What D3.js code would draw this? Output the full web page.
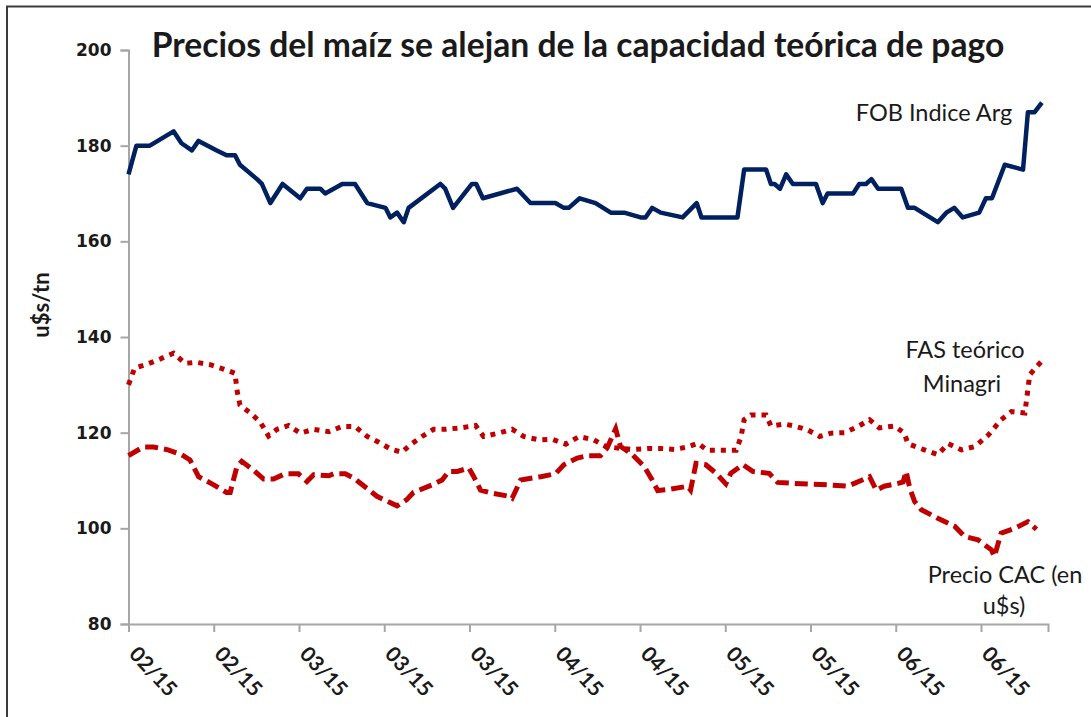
<!DOCTYPE html>
<html>
<head>
<meta charset="utf-8">
<title>Precios del maíz</title>
<script src="https://cdn.jsdelivr.net/npm/d3@7"></script>
<style>
  body { margin: 0; background: #fff; }
  svg text { fill: #1a1a1a; }
</style>
</head>
<body>
<div id="chart"></div>
<script>
// days counted from the first observation (early Feb 2015)
var fobDays = [0, 1.3, 3.5, 7.4, 8.7, 10.4, 11.5, 14.5, 16.1, 17.5, 18.3, 21.1, 21.9, 23.3, 25.3, 28.2, 29.3, 31.5, 32.3, 35.1,
  37.2, 39.2, 42.2, 43, 44.1, 45.2, 46, 51.2, 52, 53.3, 56.4, 57.1, 58.2, 63.8, 66, 70.1, 71.5, 72.3, 74.1, 76.7,
  79.2, 81.4, 84.1, 84.9, 86, 87.4, 91, 93.3, 94.1, 100, 101.1, 104.7, 105.5, 106.1, 107, 108, 109.1, 112.9, 114, 114.8,
  119, 120, 121.1, 122, 123.1, 126.9, 128, 129.1, 132.9, 134.3, 135.6, 137, 139.7, 140.8, 141.8, 143.9, 146.9, 147.7, 148.8, 150];
var fobValues = [174, 180, 180, 183, 180.5, 179, 181, 179, 178, 178, 176, 173, 172, 168, 172, 169, 171, 171, 170, 172,
  172, 168, 167, 165, 166, 164, 167, 172, 171, 167, 172, 172, 169, 171, 168, 168, 167, 167, 169, 168,
  166, 166, 165, 165, 167, 166, 165, 168, 165, 165, 175, 175, 172, 172, 171, 174, 172, 172, 168, 170,
  170, 172, 172, 173, 171, 171, 167, 167, 164, 166, 167, 165, 166, 169, 169, 176, 175, 187, 187, 189];

var fasDays = [0, 1, 3, 5.2, 7.4, 9.3, 11.2, 13.4, 15.6, 17.5, 17.8, 18.3, 20, 21.6, 23, 24.4, 26.3, 28.2, 30.4, 32.9,
  35.1, 37.2, 39.2, 41.1, 43, 44.9, 46.3, 48.2, 50.1, 52, 54.5, 57, 58.3, 60.8, 63, 64.9, 67.4, 69.6, 71.8, 74,
  76.4, 78.4, 80.8, 83, 85.5, 87.4, 89.6, 91.8, 93.5, 95.1, 97.3, 99.8, 100.6, 101.1, 102.2, 104.7, 105.5, 107.7, 109.3, 111.5,
  113.5, 115.4, 117.6, 119.8, 121.7, 123.3, 125.8, 127.4, 128, 130.7, 132.9, 134.6, 136.8, 139, 141.2, 143.3, 145, 147.2, 148, 148.8, 150];
var fasValues = [130, 133.5, 134.3, 135.4, 136.6, 134.5, 134.7, 134.2, 133.3, 132.4, 129, 125.8, 124.1, 122.3, 119.3, 120.7, 121.5, 119.9, 120.7, 120.2,
  121.3, 121.3, 119.2, 118, 116.6, 115.9, 117.5, 119.2, 120.7, 120.7, 121, 121.5, 119.2, 119.9, 120.7, 119.2, 118.5, 118.6, 117.6, 119.2,
  118.5, 117.1, 116.7, 116.5, 116.7, 116.7, 116.5, 117, 117.8, 116.3, 116.3, 116.3, 119.2, 122.7, 123.7, 123.7, 121.4, 121.8, 121.4, 120.6,
  119.2, 119.9, 120, 121.3, 122.7, 121, 121.4, 119.9, 117.7, 116.4, 115.4, 117.7, 116.4, 117.1, 119.5, 122.7, 124.4, 124.1, 132.1, 133.3, 135];

var cacDays = [0, 2.4, 4.1, 6.5, 8.7, 10.1, 11.5, 13.7, 16.1, 16.7, 17.8, 18.6, 20.5, 22.2, 23.8, 25.7, 27.9, 29.3, 30.4, 32.9,
  33.7, 35.6, 37, 40.8, 44.1, 45.7, 46.8, 49.9, 51.5, 52.6, 54, 55.9, 56.7, 57.8, 59.5, 62.5, 63, 64.4, 67.7, 70.1,
  71.5, 73.7, 75.4, 77.5, 78.6, 80, 80.8, 82.5, 84.7, 86, 86.9, 89.1, 91.8, 92.3, 93.2, 94.8, 96.5, 98.1, 98.9, 100.9,
  102.5, 105.2, 106.6, 109.3, 114.8, 118.1, 120.3, 121.7, 122.8, 124.1, 126.4, 127.2, 127.7, 128.3, 129.1, 130.2, 132.9, 135.7, 137.3, 139.5,
  141.7, 142.2, 143.3, 145.5, 147.7, 149.1];
var cacValues = [115.2, 117, 117, 116.4, 115.4, 114.3, 110.8, 109.3, 107.5, 107.5, 112.9, 114, 112.2, 110.3, 110.3, 111.4, 111.4, 109.8, 111.2, 111,
  111.4, 111.4, 110.5, 106.7, 104.7, 106, 107.5, 109.1, 110.1, 111.9, 111.9, 112.6, 110.8, 108, 107.4, 106.7, 106.3, 110.1, 110.8, 111.4,
  113.3, 114.7, 115.2, 115.2, 116.8, 120.8, 117.1, 115.7, 112.9, 110.1, 107.9, 108.2, 108.8, 108, 113.6, 113.3, 111.5, 109.3, 111.5, 113.3,
  111.9, 111.5, 109.6, 109.4, 109.1, 108.8, 110, 110.8, 108, 108.8, 109.4, 109.7, 111.9, 108.4, 105.6, 103.9, 102.1, 100.4, 98.3, 97.6,
  95.5, 94.1, 99, 100, 101.4, 99.8];

var tickDays = [0, 14, 28, 42, 56, 70, 84, 98, 112, 126, 140];
var tickLabels = ["02/15", "02/15", "03/15", "03/15", "03/15", "04/15", "04/15", "05/15", "05/15", "06/15", "06/15"];
var yTicks = [80, 100, 120, 140, 160, 180, 200];

var W = 1091, H = 717;
var svg = d3.select("#chart").append("svg")
    .attr("width", W)
    .attr("height", H);

// frame
svg.append("rect")
    .attr("x", 7).attr("y", 6.5)
    .attr("width", W + 20).attr("height", H + 20)
    .attr("fill", "#fff")
    .attr("stroke", "#3a3a3a")
    .attr("stroke-width", 2);

var x = d3.scaleLinear().domain([0, 151]).range([128.5, 1048]);
var y = d3.scaleLinear().domain([80, 200]).range([624, 50]);

// y axis
var yAxis = svg.append("g")
    .attr("transform", "translate(128.5,0)")
    .call(d3.axisLeft(y).tickValues(yTicks).tickSize(8).tickPadding(9));
yAxis.select(".domain").attr("stroke", "#a6a6a6").attr("stroke-width", 2);
yAxis.selectAll(".tick line").attr("stroke", "#a6a6a6").attr("stroke-width", 2);
yAxis.selectAll(".tick text")
    .attr("font-family", "DejaVu Sans")
    .attr("font-weight", "bold")
    .attr("font-size", 17)
    .attr("fill", "#222");

// x axis
var xAxis = svg.append("g")
    .attr("transform", "translate(0,624)")
    .call(d3.axisBottom(x).tickValues(tickDays).tickSize(8).tickFormat(function(d, i) { return tickLabels[i]; }));
xAxis.select(".domain").attr("stroke", "#a6a6a6").attr("stroke-width", 2);
xAxis.selectAll(".tick line").attr("stroke", "#a6a6a6").attr("stroke-width", 2);
xAxis.selectAll(".tick text")
    .attr("font-family", "Lato")
    .attr("font-weight", "bold")
    .attr("font-size", 21)
    .attr("fill", "#222")
    .attr("text-anchor", "start")
    .attr("dy", null)
    .attr("y", 0)
    .attr("transform", "translate(-1,31) rotate(47)");

function series(days, vals) {
  return days.map(function(d, i) { return [d, vals[i]]; });
}

var line = d3.line()
    .x(function(d) { return x(d[0]); })
    .y(function(d) { return y(d[1]); });

svg.append("path")
    .datum(series(cacDays, cacValues))
    .attr("d", line)
    .attr("fill", "none")
    .attr("stroke", "#c00000")
    .attr("stroke-width", 5)
    .attr("stroke-dasharray", "13,6");

svg.append("path")
    .datum(series(fasDays, fasValues))
    .attr("d", line)
    .attr("fill", "none")
    .attr("stroke", "#c00000")
    .attr("stroke-width", 5)
    .attr("stroke-dasharray", "5,6");

svg.append("path")
    .datum(series(fobDays, fobValues))
    .attr("d", line)
    .attr("fill", "none")
    .attr("stroke", "#002060")
    .attr("stroke-width", 4.5)
    .attr("stroke-linejoin", "round");

// title, scaled to the width it has in the original
var title = svg.append("text")
    .attr("x", 578).attr("y", 57)
    .attr("text-anchor", "middle")
    .attr("font-family", "Lato")
    .attr("font-weight", "bold")
    .attr("font-size", 28)
    .text("Precios del maíz se alejan de la capacidad teórica de pago");
var tw = title.node().getComputedTextLength();
title.attr("font-size", 28 * 853 / tw);

svg.append("text")
    .attr("transform", "translate(49,305) rotate(-90)")
    .attr("text-anchor", "middle")
    .attr("font-family", "Lato")
    .attr("font-weight", "bold")
    .attr("font-size", 22)
    .text("u$s/tn");

// series labels
var labels = [
  { t: "FOB Indice Arg", x: 934, y: 121 },
  { t: "FAS teórico", x: 965, y: 358 },
  { t: "Minagri", x: 962, y: 392 },
  { t: "Precio CAC (en", x: 1005, y: 583 },
  { t: "u$s)", x: 1004, y: 614 }
];
svg.selectAll(".lbl").data(labels).enter().append("text")
    .attr("class", "lbl")
    .attr("x", function(d) { return d.x; })
    .attr("y", function(d) { return d.y; })
    .attr("text-anchor", "middle")
    .attr("font-family", "Lato")
    .attr("font-size", 23.5)
    .text(function(d) { return d.t; });
</script>
</body>
</html>
